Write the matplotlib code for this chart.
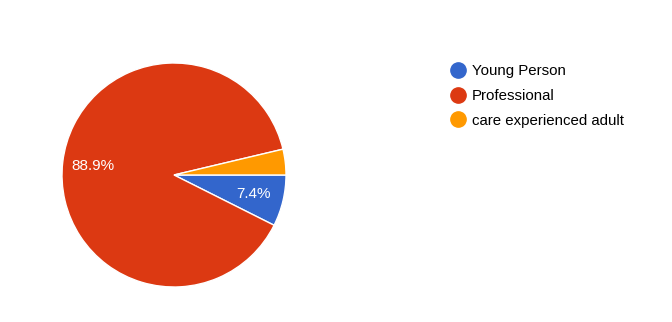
import matplotlib
matplotlib.use("Agg")
import matplotlib.pyplot as plt
from matplotlib.lines import Line2D

categories = ["Young Person", "Professional", "care experienced adult"]
values = [2, 24, 1]
colors = ["#3366cc", "#dc3912", "#ff9900"]

plt.rcParams['font.family'] = ['Liberation Sans', 'DejaVu Sans']

W, H = 672, 322
fig = plt.figure(figsize=(W / 100, H / 100), dpi=100)
cx, cy, r = 174, 175, 112
ax = fig.add_axes([(cx - r) / W, (H - cy - r) / H, 2 * r / W, 2 * r / H])

def fmt(p):
    return f"{p:.1f}%" if p >= 5 else ""

wedges, texts, autotexts = ax.pie(
    values, colors=colors, startangle=0, counterclock=False,
    autopct=fmt, pctdistance=0.73,
    wedgeprops=dict(edgecolor="white", linewidth=1),
    textprops=dict(color="white", fontsize=11),
)
ax.set_xlim(-1, 1)
ax.set_ylim(-1, 1)
ax.set_aspect("equal")
ax.axis("off")

handles = [Line2D([], [], marker="o", linestyle="none", markersize=11,
                  markerfacecolor=c, markeredgecolor=c) for c in colors]
fig.legend(handles, categories, loc="upper left",
           bbox_to_anchor=(447 / W, 1 - 64 / H), frameon=False,
           fontsize=10.8, handletextpad=0.15, labelspacing=0.72,
           handlelength=1.5, borderpad=0, borderaxespad=0)

fig.savefig("out.png", dpi=100, facecolor="white")
